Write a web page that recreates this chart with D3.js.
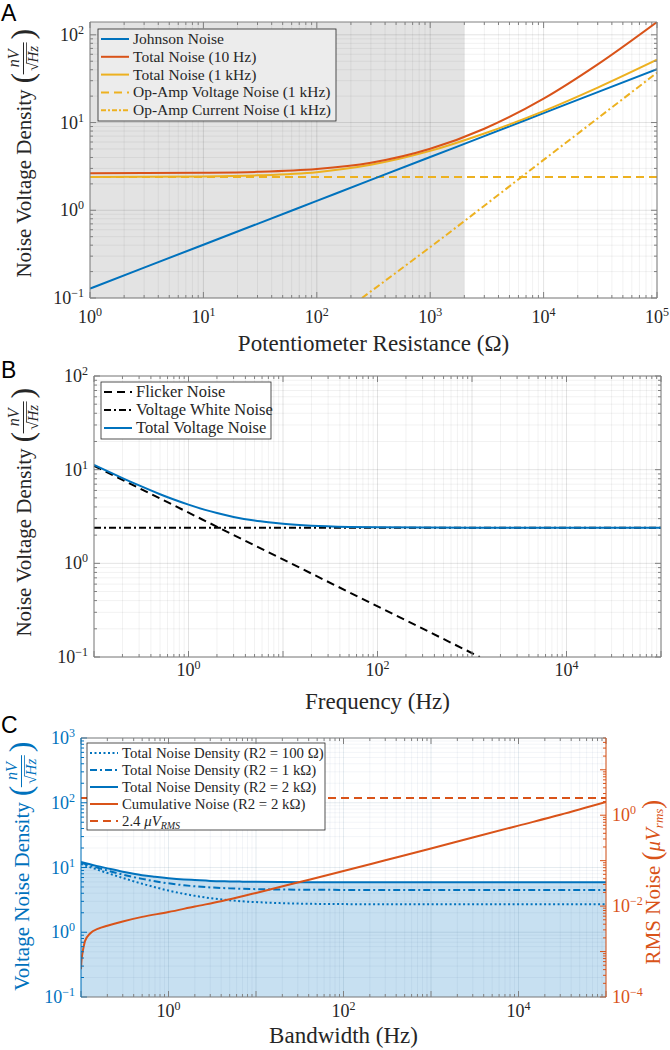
<!DOCTYPE html>
<html>
<head>
<meta charset="utf-8">
<script src="https://cdn.jsdelivr.net/npm/d3@7"></script>
<style>
  body { margin: 0; background: #fff; }
  svg { display: block; }
</style>
</head>
<body>
<svg id="chart"></svg>
<script>
// ---------- panel A : noise vs potentiometer resistance ----------
const resistance      = [1, 3, 10, 30, 100, 300, 1000, 3000, 1e4, 3e4, 1e5];
const johnsonNoise    = [0.128, 0.222, 0.405, 0.70, 1.28, 2.22, 4.05, 7.0, 12.8, 22.2, 40.5];
const totalNoise10Hz  = [2.65, 2.66, 2.68, 2.74, 2.95, 3.48, 5.02, 8.5, 18.7, 46, 140];
const totalNoise1kHz  = [2.4, 2.41, 2.43, 2.5, 2.72, 3.3, 4.75, 7.5, 13.5, 25, 52];
const opAmpVoltageR   = [1, 1e5];
const opAmpVoltage    = [2.4, 2.4];
const opAmpCurrentR   = [250, 1000, 1e4, 1e5];
const opAmpCurrent    = [0.1, 0.38, 3.75, 37];
const shadedR         = [1, 2000];

// ---------- panel B : noise vs frequency ----------
const freqB           = [0.1, 0.15, 0.2, 0.3, 0.5, 0.7, 1, 1.5, 2, 3, 5, 7, 10, 20, 50, 100, 1000, 1e5];
const totalVoltage    = [11.26, 9.3, 8.14, 6.79, 5.47, 4.8, 4.23, 3.72, 3.44, 3.13, 2.86, 2.74, 2.64, 2.52, 2.45, 2.43, 2.4, 2.4];
const flickerF        = [0.1, 1210];
const flickerNoise    = [11, 0.1];
const whiteF          = [0.1, 1e5];
const whiteNoise      = [2.4, 2.4];

// ---------- panel C : density and cumulative noise vs bandwidth ----------
const freqC           = [0.1, 0.15, 0.2, 0.3, 0.5, 0.7, 1, 1.5, 2, 3, 5, 7, 10, 20, 50, 100, 1000, 1e5];
const density100      = [11.33, 9.38, 8.23, 6.9, 5.61, 4.96, 4.4, 3.92, 3.65, 3.36, 3.12, 3.0, 2.92, 2.81, 2.74, 2.72, 2.7, 2.7];
const density1k       = [11.88, 10.05, 8.99, 7.78, 6.67, 6.13, 5.69, 5.32, 5.13, 4.93, 4.76, 4.69, 4.63, 4.57, 4.53, 4.51, 4.5, 4.5];
const density2k       = [12.2, 10.6, 9.7, 8.6, 7.6, 7.2, 6.85, 6.55, 6.4, 6.2, 6.1, 6.05, 6.0, 5.95, 5.92, 5.9, 5.9, 5.9];
const cumulativeF     = [0.1, 0.1012, 0.1035, 0.107, 0.111, 0.127, 0.158, 0.2, 0.3, 0.5, 1, 2, 4, 10, 30, 100, 300, 1000, 3000, 1e4, 3e4, 1e5];
const cumulativeNoise = [4.1e-4, 6.2e-4, 8.8e-4, 1.25e-3, 1.7e-3, 2.5e-3, 3.2e-3, 3.7e-3, 4.6e-3, 5.8e-3, 7.4e-3, 9.8e-3, 0.0128, 0.0195, 0.033, 0.059, 0.102, 0.186, 0.323, 0.59, 1.02, 1.95];
const limitF          = [0.1, 1e5];
const limitRms        = [2.4, 2.4];

const blue = "#0072BD", orange = "#D95319", yellow = "#EDB120", ink = "#262626";
const SERIF = "'Liberation Serif', 'Times New Roman', Tinos, 'DejaVu Serif', serif";

const svg = d3.select("#chart").attr("width", 670).attr("height", 1050)
    .attr("font-family", SERIF).style("font-family", SERIF);

// pairs up x and y arrays
const zip = (xs, ys) => xs.map((v, i) => [v, ys[i]]);

function logTicks(domain) {
    const lo = domain[0], hi = domain[1];
    const major = [], minor = [];
    for (let e = Math.floor(Math.log10(lo)); e <= Math.ceil(Math.log10(hi)); e++) {
        for (let k = 1; k < 10; k++) {
            const v = k * Math.pow(10, e);
            if (v < lo * 0.9999 || v > hi * 1.0001) continue;
            (k === 1 ? major : minor).push(v);
        }
    }
    return { major, minor };
}

function powText(sel, v, supSize) {
    const e = Math.round(Math.log10(v));
    sel.append("tspan").text("10");
    sel.append("tspan").attr("font-size", supSize).attr("dy", -7)
        .text(e < 0 ? "\u2212" + (-e) : e);
}

// grid lines of one panel
function drawAxes(g, box, x, y, o) {
    const xt = logTicks(x.domain()), yt = logTicks(y.domain());
    const grid = g.append("g").attr("stroke", o.gridColor || "#000");
    xt.minor.forEach(v => grid.append("line").attr("x1", x(v)).attr("x2", x(v)).attr("y1", box.top).attr("y2", box.bottom).attr("stroke-opacity", 0.07));
    yt.minor.forEach(v => grid.append("line").attr("y1", y(v)).attr("y2", y(v)).attr("x1", box.left).attr("x2", box.right).attr("stroke-opacity", 0.07));
    xt.major.forEach(v => grid.append("line").attr("x1", x(v)).attr("x2", x(v)).attr("y1", box.top).attr("y2", box.bottom).attr("stroke-opacity", 0.14));
    yt.major.forEach(v => grid.append("line").attr("y1", y(v)).attr("y2", y(v)).attr("x1", box.left).attr("x2", box.right).attr("stroke-opacity", 0.14));
    grid.selectAll("line").attr("stroke-width", 0.8);
}

// frame, ticks and tick labels
function drawFrame(g, box, x, y, o) {
    const xt = logTicks(x.domain()), yt = logTicks(y.domain());
    const leftColor = o.leftColor || "#808080", xColor = "#808080";
    const fr = g.append("g").attr("fill", "none").attr("stroke-width", 1);
    [[xt.major, 6], [xt.minor, 3]].forEach(([vals, len]) => {
        vals.forEach(v => {
            fr.append("line").attr("x1", x(v)).attr("x2", x(v)).attr("y1", box.bottom).attr("y2", box.bottom - len).attr("stroke", xColor);
            fr.append("line").attr("x1", x(v)).attr("x2", x(v)).attr("y1", box.top).attr("y2", box.top + len).attr("stroke", xColor);
        });
    });
    [[yt.major, 6], [yt.minor, 3]].forEach(([vals, len]) => {
        vals.forEach(v => {
            fr.append("line").attr("y1", y(v)).attr("y2", y(v)).attr("x1", box.left).attr("x2", box.left + len).attr("stroke", leftColor);
            if (!o.y2) fr.append("line").attr("y1", y(v)).attr("y2", y(v)).attr("x1", box.right).attr("x2", box.right - len).attr("stroke", leftColor);
        });
    });
    if (o.y2) {
        const rt = logTicks(o.y2.domain());
        [[rt.major, 6], [rt.minor, 3]].forEach(([vals, len]) => {
            vals.forEach(v => fr.append("line").attr("y1", o.y2(v)).attr("y2", o.y2(v)).attr("x1", box.right).attr("x2", box.right - len).attr("stroke", o.rightColor));
        });
    }
    fr.append("line").attr("x1", box.left).attr("x2", box.right).attr("y1", box.top).attr("y2", box.top).attr("stroke", xColor);
    fr.append("line").attr("x1", box.left).attr("x2", box.right).attr("y1", box.bottom).attr("y2", box.bottom).attr("stroke", xColor);
    fr.append("line").attr("x1", box.left).attr("x2", box.left).attr("y1", box.top).attr("y2", box.bottom).attr("stroke", leftColor);
    fr.append("line").attr("x1", box.right).attr("x2", box.right).attr("y1", box.top).attr("y2", box.bottom).attr("stroke", o.y2 ? o.rightColor : leftColor);

    o.xLabels.forEach(v => {
        const t = g.append("text").attr("x", x(v)).attr("y", box.bottom + (o.xLabelGap || 23)).attr("text-anchor", "middle")
            .attr("font-size", 18).attr("fill", ink);
        powText(t, v, 12);
    });
    o.yLabels.forEach(v => {
        const t = g.append("text").attr("x", box.left - 6).attr("y", y(v) + 6).attr("text-anchor", "end")
            .attr("font-size", 18).attr("fill", o.leftColor || ink);
        powText(t, v, 12);
    });
    if (o.y2) {
        o.y2Labels.forEach(v => {
            const t = g.append("text").attr("x", box.right + 6).attr("y", o.y2(v) + 6).attr("text-anchor", "start")
                .attr("font-size", 18).attr("fill", o.rightColor);
            powText(t, v, 12);
        });
    }
}

// rotated "... ( nV / sqrt(Hz) )" label
function densityLabel(parent, cx, cy, prefix, color) {
    const g = parent.append("g").attr("fill", color);
    const inner = g.append("g");
    const t = inner.append("text").attr("font-size", 21).text(prefix);
    const w = t.node().getComputedTextLength();
    inner.append("text").attr("x", w + 6).attr("y", 2).attr("font-size", 32).text("(");
    const fx = w + 31;
    inner.append("text").attr("x", fx).attr("y", -12).attr("font-size", 16).attr("font-style", "italic")
        .attr("text-anchor", "middle").text("nV");
    inner.append("line").attr("x1", fx - 16).attr("x2", fx + 16).attr("y1", -7.5).attr("y2", -7.5)
        .attr("stroke", color).attr("stroke-width", 1);
    const d = inner.append("text").attr("x", fx).attr("y", 7).attr("font-size", 15).attr("text-anchor", "middle");
    d.append("tspan").text("\u221A");
    d.append("tspan").attr("font-style", "italic").text("Hz");
    inner.append("line").attr("x1", fx - 5).attr("x2", fx + 16).attr("y1", -4.5).attr("y2", -4.5)
        .attr("stroke", color).attr("stroke-width", 0.8);
    inner.append("text").attr("x", fx + 19).attr("y", 2).attr("font-size", 32).text(")");
    const total = fx + 30;
    inner.attr("transform", `translate(${-total / 2},0)`);
    g.attr("transform", `translate(${cx},${cy}) rotate(-90)`);
}

function legend(g, box, fill, rowH, fontSize, items) {
    g.append("rect").attr("x", box.x).attr("y", box.y).attr("width", box.w).attr("height", box.h)
        .attr("fill", fill).attr("stroke", ink).attr("stroke-width", 0.8);
    items.forEach((it, i) => {
        const yy = box.y + 10 + i * rowH;
        g.append("line").attr("x1", box.x + 3).attr("x2", box.x + 31).attr("y1", yy).attr("y2", yy)
            .attr("stroke", it.color).attr("stroke-width", 2).attr("stroke-dasharray", it.dash || null);
        const t = g.append("text").attr("x", box.x + 35).attr("y", yy + 5).attr("font-size", fontSize).attr("fill", ink);
        if (typeof it.label === "string") t.text(it.label);
        else it.label(t);
    });
}

function panelLetter(txt, x, y) {
    svg.append("text").attr("x", x).attr("y", y).attr("font-size", 23)
        .attr("font-family", "'Liberation Sans', Arial, sans-serif")
        .style("font-family", "'Liberation Sans', Arial, sans-serif").attr("fill", "#000").text(txt);
}

function clipFor(id, box) {
    svg.append("clipPath").attr("id", id).append("rect")
        .attr("x", box.left).attr("y", box.top).attr("width", box.right - box.left).attr("height", box.bottom - box.top);
    return `url(#${id})`;
}

function drawLine(g, x, y, pts, color, dash) {
    const line = d3.line().x(d => x(d[0])).y(d => y(d[1])).curve(d3.curveMonotoneX);
    g.append("path").datum(pts).attr("d", line).attr("fill", "none")
        .attr("stroke", color).attr("stroke-width", 2).attr("stroke-dasharray", dash || null);
}

const DASH = "8,5", DASHDOT = "7,3,2,3", DOT = "2,2.5";

// ================= Panel A =================
(function () {
    const box = { left: 90, top: 22, right: 657, bottom: 298 };
    const x = d3.scaleLog().domain([1, 1e5]).range([box.left, box.right]);
    const y = d3.scaleLog().domain([0.1, 140]).range([box.bottom, box.top]);
    const g = svg.append("g");

    g.append("rect").attr("x", x(shadedR[0])).attr("y", box.top)
        .attr("width", x(shadedR[1]) - x(shadedR[0])).attr("height", box.bottom - box.top).attr("fill", "#e3e3e3");
    drawAxes(g, box, x, y, {});

    const lines = g.append("g").attr("clip-path", clipFor("clipA", box));
    drawLine(lines, x, y, zip(opAmpVoltageR, opAmpVoltage), yellow, DASH);
    drawLine(lines, x, y, zip(opAmpCurrentR, opAmpCurrent), yellow, DASHDOT);
    drawLine(lines, x, y, zip(resistance, johnsonNoise), blue);
    drawLine(lines, x, y, zip(resistance, totalNoise1kHz), yellow);
    drawLine(lines, x, y, zip(resistance, totalNoise10Hz), orange);

    legend(g, { x: 98, y: 29, w: 238, h: 92 }, "#ececec", 17.8, 15.5, [
        { label: "Johnson Noise", color: blue },
        { label: "Total Noise (10 Hz)", color: orange },
        { label: "Total Noise (1 kHz)", color: yellow },
        { label: "Op-Amp Voltage Noise (1 kHz)", color: yellow, dash: DASH },
        { label: "Op-Amp Current Noise (1 kHz)", color: yellow, dash: "5,2,2,2" }
    ]);

    drawFrame(g, box, x, y, { xLabels: [1, 10, 100, 1000, 1e4, 1e5], yLabels: [0.1, 1, 10, 100], xLabelGap: 25 });

    g.append("text").attr("x", (box.left + box.right) / 2).attr("y", box.bottom + 53)
        .attr("text-anchor", "middle").attr("font-size", 23).attr("fill", ink).text("Potentiometer Resistance (\u03A9)");
    densityLabel(g, 31, 153, "Noise Voltage Density", ink);
    panelLetter("A", 1, 21);
})();

// ================= Panel B =================
(function () {
    const box = { left: 94, top: 376, right: 661, bottom: 657 };
    const x = d3.scaleLog().domain([0.1, 1e5]).range([box.left, box.right]);
    const y = d3.scaleLog().domain([0.1, 100]).range([box.bottom, box.top]);
    const g = svg.append("g");

    drawAxes(g, box, x, y, {});
    const lines = g.append("g").attr("clip-path", clipFor("clipB", box));
    drawLine(lines, x, y, zip(flickerF, flickerNoise), "#000", DASH);
    drawLine(lines, x, y, zip(whiteF, whiteNoise), "#000", DASHDOT);
    drawLine(lines, x, y, zip(freqB, totalVoltage), blue);

    legend(g, { x: 101, y: 382, w: 170, h: 57 }, "#fff", 18, 16.5, [
        { label: "Flicker Noise", color: "#000", dash: DASH },
        { label: "Voltage White Noise", color: "#000", dash: DASHDOT },
        { label: "Total Voltage Noise", color: blue }
    ]);

    drawFrame(g, box, x, y, { xLabels: [1, 100, 1e4], yLabels: [0.1, 1, 10, 100], xLabelGap: 19 });

    g.append("text").attr("x", (box.left + box.right) / 2).attr("y", box.bottom + 52)
        .attr("text-anchor", "middle").attr("font-size", 23).attr("fill", ink).text("Frequency (Hz)");
    densityLabel(g, 31, 512, "Noise Voltage Density", ink);
    panelLetter("B", 1, 378);
})();

// ================= Panel C =================
(function () {
    const box = { left: 81, top: 738, right: 606, bottom: 997 };
    const x = d3.scaleLog().domain([0.1, 1e5]).range([box.left, box.right]);
    const y = d3.scaleLog().domain([0.1, 1000]).range([box.bottom, box.top]);
    const y2 = d3.scaleLog().domain([1e-4, 50]).range([box.bottom, box.top]);
    const g = svg.append("g");
    const clip = clipFor("clipC", box);

    // shaded area under the 2 kOhm density
    const area = d3.area().x(d => x(d[0])).y0(box.bottom).y1(d => y(d[1])).curve(d3.curveMonotoneX);
    g.append("path").datum(zip(freqC, density2k)).attr("d", area).attr("fill", blue).attr("fill-opacity", 0.22);

    drawAxes(g, box, x, y, { gridColor: "#1d4f78" });

    const lines = g.append("g").attr("clip-path", clip);
    drawLine(lines, x, y, zip(freqC, density100), blue, DOT);
    drawLine(lines, x, y, zip(freqC, density1k), blue, DASHDOT);
    drawLine(lines, x, y, zip(freqC, density2k), blue);
    drawLine(lines, x, y2, zip(cumulativeF, cumulativeNoise), orange);
    drawLine(lines, x, y2, zip(limitF, limitRms), orange, DASH);

    legend(g, { x: 87, y: 743, w: 238, h: 87 }, "#fff", 17, 14.8, [
        { label: "Total Noise Density (R2 = 100 \u03A9)", color: blue, dash: DOT },
        { label: "Total Noise Density (R2 = 1 k\u03A9)", color: blue, dash: DASHDOT },
        { label: "Total Noise Density (R2 = 2 k\u03A9)", color: blue },
        { label: "Cumulative Noise (R2 = 2 k\u03A9)", color: orange },
        { label: t => {
            t.append("tspan").text("2.4 ");
            t.append("tspan").attr("font-style", "italic").text("\u03BCV");
            t.append("tspan").attr("font-style", "italic").attr("font-size", 10).attr("dy", 3).text("RMS");
        }, color: orange, dash: DASH }
    ]);

    drawFrame(g, box, x, y, {
        xLabels: [1, 100, 1e4], yLabels: [0.1, 1, 10, 100, 1000], xLabelGap: 20,
        leftColor: blue, y2: y2, rightColor: orange, y2Labels: [1e-4, 1e-2, 1]
    });

    g.append("text").attr("x", (box.left + box.right) / 2).attr("y", box.bottom + 46)
        .attr("text-anchor", "middle").attr("font-size", 23).attr("fill", ink).text("Bandwidth (Hz)");
    densityLabel(g, 29, 866, "Voltage Noise Density", blue);

    // right axis label: RMS Noise (uV_rms)
    const rg = g.append("g").attr("fill", orange)
        .attr("transform", `translate(${box.right + 54},882) rotate(-90)`);
    const rt = rg.append("text").attr("text-anchor", "middle").attr("font-size", 21);
    rt.append("tspan").text("RMS Noise ");
    rt.append("tspan").attr("font-size", 27).attr("dy", 1).text("(");
    rt.append("tspan").attr("font-style", "italic").attr("dy", -1).text("\u03BCV");
    rt.append("tspan").attr("font-style", "italic").attr("font-size", 13).attr("dy", 3).text("rms");
    rt.append("tspan").attr("font-size", 27).attr("dy", -2).text(")");
    panelLetter("C", 1, 733);
})();
</script>
</body>
</html>
